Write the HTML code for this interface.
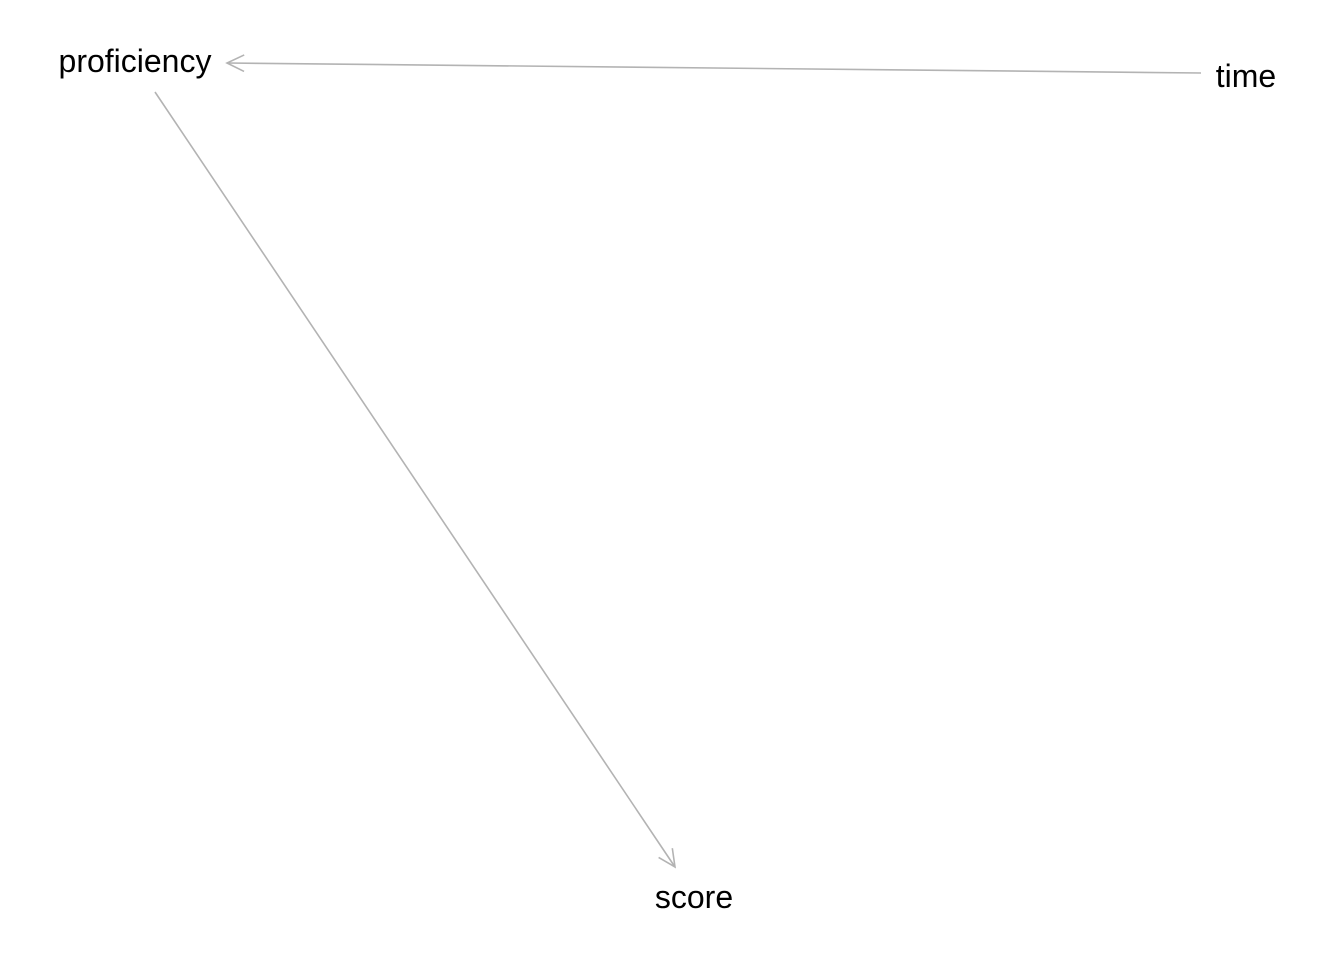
<!DOCTYPE html>
<html><head><meta charset="utf-8"><style>
html,body{margin:0;padding:0;background:#fff;width:1344px;height:960px;overflow:hidden}
text{font-family:"Liberation Sans",Arial,sans-serif;font-size:32px;fill:#000}
</style></head><body>
<svg id="dag" width="1344" height="960" xmlns="http://www.w3.org/2000/svg"></svg>
<script>
const nodeNames = ["proficiency", "time", "score"];
const nodeX = [135, 1246, 694];
const nodeY = [61, 76, 897];
const edgeFrom = [1, 0];
const edgeTo = [0, 2];
const edgeStart = [[1201, 73], [155, 92]];
const edgeEnd = [[227, 63], [675, 867]];

const svg = document.getElementById('dag');
const NS = 'http://www.w3.org/2000/svg';
for (let i = 0; i < edgeFrom.length; i++) {
  const [x1, y1] = edgeStart[i], [x2, y2] = edgeEnd[i];
  const g = document.createElementNS(NS, 'g');
  
  
  const ang = Math.atan2(y2 - y1, x2 - x1);
  const L = 19, a = Math.PI / 7;
  const p1 = [x2 - L * Math.cos(ang - a), y2 - L * Math.sin(ang - a)];
  const p2 = [x2 - L * Math.cos(ang + a), y2 - L * Math.sin(ang + a)];
  const line = document.createElementNS(NS, 'line');
  line.setAttribute('x1', x1); line.setAttribute('y1', y1);
  line.setAttribute('x2', x2); line.setAttribute('y2', y2);
  line.setAttribute('stroke', '#b3b3b3'); line.setAttribute('stroke-width', '1.6');
  
  
  g.appendChild(line);
  const head = document.createElementNS(NS, 'polyline');
  head.setAttribute('points', `${p1[0]},${p1[1]} ${x2},${y2} ${p2[0]},${p2[1]}`);
  head.setAttribute('fill', 'none'); head.setAttribute('stroke', '#b3b3b3'); head.setAttribute('stroke-width', '1.6');
  
  
  g.appendChild(head);
  svg.appendChild(g);
}
for (let i = 0; i < nodeNames.length; i++) {
  const t = document.createElementNS(NS, 'text');
  t.setAttribute('x', nodeX[i]); t.setAttribute('y', nodeY[i]);
  t.setAttribute('text-anchor', 'middle'); t.setAttribute('dominant-baseline', 'central');
  t.textContent = nodeNames[i];
  
  
  svg.appendChild(t);
}
</script>
</body></html>
